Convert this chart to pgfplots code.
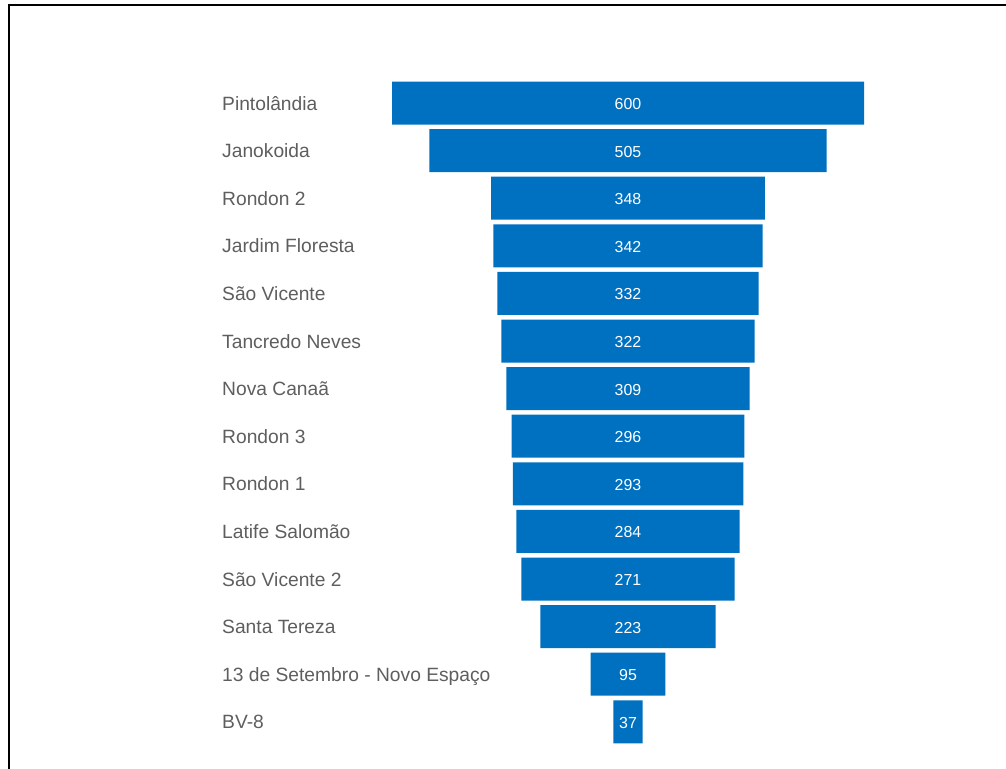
\documentclass[border=0pt]{standalone}
\usepackage{fontspec}
\setmainfont{Liberation Sans}
\usepackage{pgfplots}
\pgfplotsset{compat=1.18}
\usepackage{pgfplotstable}
\definecolor{fb}{HTML}{0070C0}
\definecolor{lg}{HTML}{5E5E5E}
\pgfplotstableread{
i v
0 600
1 505
2 348
3 342
4 332
5 322
6 309
7 296
8 293
9 284
10 271
11 223
12 95
13 37
}\funnel
\pgfplotsset{funnelaxis/.style={
  at={(392bp,-79.2bp)}, anchor=north west,
  scale only axis, width=472bp, height=666.4bp,
  xmin=0, xmax=600, ymin=-0.5, ymax=13.5, y dir=reverse,
  clip=false}}
\begin{document}
\begin{tikzpicture}[x=1bp,y=1bp]
\path[use as bounding box] (0,0) rectangle (1006,-769);
\draw[line width=2.5bp] (9,-769) -- (9,-5) -- (1006,-5);
\begin{axis}[
  funnelaxis,
  xbar stacked, bar width=43bp,
  axis line style={draw=none}, xtick=\empty,
  ytick={0,1,2,3,4,5,6,7,8,9,10,11,12,13},
  yticklabels={Pintolândia, Janokoida, Rondon 2, Jardim Floresta, São Vicente, Tancredo Neves, Nova Canaã, Rondon 3, Rondon 1, Latife Salomão, São Vicente 2, Santa Tereza, 13 de Setembro - Novo Espaço, BV-8},
  major tick length=0pt,
  yticklabel style={anchor=base west, xshift=-170bp, yshift=-7bp, inner sep=0pt, font=\fontsize{19.3}{22}\selectfont, text=lg},
]
% invisible offset that centres each bar
\addplot[draw=none, fill=none] table[x expr=(600-\thisrow{v})/2, y=i] {\funnel};
% the visible bar
\addplot[draw=none, fill=fb] table[x=v, y=i] {\funnel};
\end{axis}
\begin{axis}[
  funnelaxis, hide axis,
  /pgf/number format/assume math mode=true,
]
\addplot[draw=none, mark=none, nodes near coords, point meta=explicit,
  nodes near coords style={anchor=center, yshift=-1bp, text=white, font=\fontsize{16}{19}\selectfont}]
  table[x expr=300, y=i, meta=v] {\funnel};
\end{axis}
\end{tikzpicture}
\end{document}
